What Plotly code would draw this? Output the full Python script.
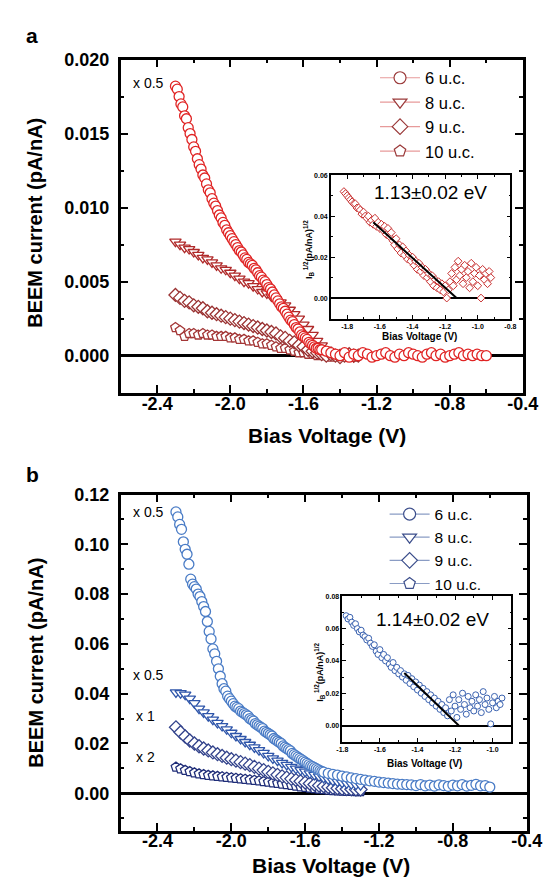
import plotly.graph_objects as go

# ---------------- data ----------------
bias_dense = [-2.30, -2.29, -2.28, -2.27, -2.26, -2.25, -2.24, -2.23, -2.22, -2.21,
              -2.20, -2.19, -2.18, -2.17, -2.16, -2.15, -2.14, -2.13, -2.12, -2.11,
              -2.10, -2.09, -2.08, -2.07, -2.06, -2.05, -2.04, -2.03, -2.02, -2.01,
              -2.00, -1.99, -1.98, -1.97, -1.96, -1.95, -1.94, -1.93, -1.92, -1.91,
              -1.90, -1.89, -1.88, -1.87, -1.86, -1.85, -1.84, -1.83, -1.82, -1.81,
              -1.80, -1.79, -1.78, -1.77, -1.76, -1.75, -1.74, -1.73, -1.72, -1.71,
              -1.70, -1.69, -1.68, -1.67, -1.66, -1.65, -1.64, -1.63, -1.62, -1.61,
              -1.60, -1.59, -1.58, -1.57, -1.56, -1.55, -1.54, -1.53, -1.52, -1.51,
              -1.50]
bias_tail = [-1.475, -1.450, -1.425, -1.400, -1.375, -1.350, -1.325, -1.300, -1.275, -1.250,
             -1.225, -1.200, -1.175, -1.150, -1.125, -1.100, -1.075, -1.050, -1.025, -1.000,
             -0.975, -0.950, -0.925, -0.900, -0.875, -0.850, -0.825, -0.800, -0.775, -0.750,
             -0.725, -0.700, -0.675, -0.650, -0.625, -0.600]
bias_circ = bias_dense + bias_tail
bias_short = [-2.300, -2.275, -2.250, -2.225, -2.200, -2.175, -2.150, -2.125, -2.100, -2.075,
              -2.050, -2.025, -2.000, -1.975, -1.950, -1.925, -1.900, -1.875, -1.850, -1.825,
              -1.800, -1.775, -1.750, -1.725, -1.700, -1.675, -1.650, -1.625, -1.600, -1.575,
              -1.550, -1.525, -1.500, -1.475, -1.450, -1.425, -1.400, -1.375, -1.350, -1.325,
              -1.300]

# panel a (pA/nA); 6 u.c. shown x0.5
a_6uc = [0.0182, 0.0180, 0.0175, 0.0170, 0.0168, 0.0162, 0.0160, 0.0154, 0.0150, 0.0146,
         0.0141, 0.0138, 0.0133, 0.0129, 0.0126, 0.0122, 0.0120, 0.0116, 0.0112, 0.0110,
         0.0106, 0.0103, 0.0101, 0.0098, 0.0095, 0.0093, 0.0090, 0.0088, 0.0085, 0.0083,
         0.0081, 0.0079, 0.0077, 0.0075, 0.0073, 0.0071, 0.0070, 0.0068, 0.0066, 0.0065,
         0.0063, 0.0062, 0.0061, 0.0059, 0.0058, 0.0056, 0.0054, 0.0053, 0.0051, 0.0050,
         0.0048, 0.0046, 0.0045, 0.0043, 0.0041, 0.0039, 0.0037, 0.0035, 0.0033, 0.0032,
         0.0030, 0.0028, 0.0026, 0.0024, 0.0023, 0.0021, 0.0019, 0.0018, 0.0016, 0.0014,
         0.0013, 0.0012, 0.0011, 0.0009, 0.0008, 0.0007, 0.0006, 0.0005, 0.0005, 0.0004,
         0.0004,
         0.0003, 0.0002, 0.0001, 0.0000, 0.0002, -0.0001, 0.0001, 0.0000, 0.0002, 0.0001,
         -0.0001, 0.0000, 0.0001, 0.0002, 0.0000, -0.0001, 0.0001, 0.0000, 0.0002, 0.0001,
         0.0000, -0.0001, 0.0001, 0.0002, 0.0000, 0.0001, -0.0001, 0.0000, 0.0001, 0.0002,
         0.0000, 0.0001, 0.0000, 0.0001, 0.0000, 0.0000]
a_8uc = [0.0077, 0.0075, 0.0073, 0.0072, 0.0070, 0.0068, 0.0066, 0.0065, 0.0063, 0.0061,
         0.0059, 0.0058, 0.0056, 0.0054, 0.0052, 0.0050, 0.0049, 0.0047, 0.0045, 0.0043,
         0.0042, 0.0040, 0.0038, 0.0036, 0.0034, 0.0031, 0.0028, 0.0025, 0.0021, 0.0018,
         0.0014, 0.0010, 0.0007, 0.0004, 0.0002, 0.0001, 0.0000, 0.0001, 0.0000, -0.0001,
         0.0000]
a_9uc = [0.0041, 0.0039, 0.0037, 0.0036, 0.0034, 0.0033, 0.0032, 0.0030, 0.0029, 0.0028,
         0.0027, 0.0026, 0.0025, 0.0024, 0.0023, 0.0022, 0.0021, 0.0020, 0.0019, 0.0018,
         0.0017, 0.0016, 0.0015, 0.0013, 0.0012, 0.0010, 0.0009, 0.0007, 0.0006, 0.0004,
         0.0003, 0.0002, 0.0001, 0.0000, 0.0001, 0.0000, -0.0001, 0.0000, 0.0001, 0.0000,
         0.0000]
a_10uc = [0.0019, 0.0017, 0.0013, 0.0015, 0.0015, 0.0014, 0.0015, 0.0014, 0.0014, 0.0013,
          0.0013, 0.0013, 0.0012, 0.0012, 0.0011, 0.0011, 0.0010, 0.0010, 0.0009, 0.0008,
          0.0008, 0.0007, 0.0006, 0.0005, 0.0005, 0.0004, 0.0003, 0.0002, 0.0002, 0.0001,
          0.0001, 0.0000, 0.0001, 0.0000, -0.0001, 0.0000, 0.0001, 0.0000, 0.0000, -0.0001,
          0.0000]

# panel b (pA/nA); 6 u.c. x0.5, 8 u.c. x0.5, 9 u.c. x1, 10 u.c. x2
b_6uc = [0.113, 0.111, 0.108, 0.106, 0.101, 0.098, 0.096, 0.092, 0.086, 0.084,
         0.083, 0.082, 0.080, 0.079, 0.077, 0.075, 0.073, 0.069, 0.065, 0.062,
         0.058, 0.056, 0.053, 0.050, 0.047, 0.044, 0.042, 0.041, 0.039, 0.038,
         0.037, 0.036, 0.035, 0.0345, 0.034, 0.033, 0.0325, 0.032, 0.0315, 0.031,
         0.030, 0.0295, 0.029, 0.028, 0.0275, 0.027, 0.0265, 0.026, 0.025, 0.0245,
         0.024, 0.0235, 0.023, 0.022, 0.0215, 0.021, 0.0205, 0.020, 0.019, 0.0185,
         0.018, 0.0175, 0.017, 0.016, 0.0155, 0.015, 0.0145, 0.014, 0.0135, 0.013,
         0.0125, 0.012, 0.0115, 0.011, 0.0107, 0.0103, 0.0099, 0.0095, 0.0091, 0.0088,
         0.0085,
         0.0080, 0.0076, 0.0073, 0.0069, 0.0066, 0.0062, 0.0059, 0.0056, 0.0053, 0.0050,
         0.0048, 0.0045, 0.0043, 0.0041, 0.0039, 0.0037, 0.0036, 0.0035, 0.0034, 0.0031,
         0.0035, 0.0030, 0.0033, 0.0029, 0.0034, 0.0031, 0.0028, 0.0033, 0.0030, 0.0035,
         0.0029, 0.0032, 0.0036, 0.0030, 0.0031, 0.0025]
b_8uc = [0.0405, 0.0402, 0.0396, 0.0380, 0.0362, 0.0340, 0.0325, 0.0310, 0.0296, 0.0283,
         0.0270, 0.0257, 0.0243, 0.0230, 0.0218, 0.0206, 0.0195, 0.0184, 0.0173, 0.0162,
         0.0150, 0.0140, 0.0131, 0.0122, 0.0114, 0.0106, 0.0099, 0.0093, 0.0087, 0.0080,
         0.0074, 0.0068, 0.0062, 0.0056, 0.0051, 0.0047, 0.0043, 0.0040, 0.0037, 0.0035,
         0.0033]
b_9uc = [0.0265, 0.0245, 0.0228, 0.0212, 0.0200, 0.0189, 0.0180, 0.0172, 0.0164, 0.0157,
         0.0150, 0.0143, 0.0137, 0.0131, 0.0125, 0.0119, 0.0113, 0.0106, 0.0099, 0.0093,
         0.0086, 0.0080, 0.0074, 0.0068, 0.0063, 0.0058, 0.0053, 0.0048, 0.0043, 0.0039,
         0.0035, 0.0031, 0.0028, 0.0025, 0.0022, 0.0020, 0.0018, 0.0017, 0.0016, 0.0015,
         0.0015]
b_10uc = [0.0105, 0.0098, 0.0092, 0.0087, 0.0082, 0.0078, 0.0075, 0.0072, 0.0070, 0.0068,
          0.0066, 0.0064, 0.0062, 0.0060, 0.0058, 0.0056, 0.0054, 0.0052, 0.0050, 0.0047,
          0.0045, 0.0042, 0.0040, 0.0037, 0.0035, 0.0032, 0.0029, 0.0026, 0.0024, 0.0021,
          0.0019, 0.0017, 0.0015, 0.0013, 0.0011, 0.0010, 0.0009, 0.0008, 0.0008, 0.0007,
          0.0007]

# inset a: I_B^(1/2) vs bias
ins_a_x = [-1.82, -1.81, -1.80, -1.79, -1.78, -1.77, -1.76, -1.75, -1.74, -1.73,
           -1.72, -1.71, -1.70, -1.69, -1.68, -1.67, -1.66, -1.65, -1.64, -1.63,
           -1.62, -1.61, -1.60, -1.59, -1.58, -1.57, -1.56, -1.55, -1.54, -1.53,
           -1.52, -1.51, -1.50, -1.49, -1.48, -1.47, -1.46, -1.45, -1.44, -1.43,
           -1.42, -1.41, -1.40, -1.39, -1.38, -1.37, -1.36, -1.35, -1.34, -1.33,
           -1.32, -1.31, -1.30, -1.29, -1.28, -1.27, -1.26, -1.25, -1.24, -1.23,
           -1.22, -1.21, -1.20, -1.19, -1.18, -1.17, -1.16, -1.15, -1.14, -1.13,
           -1.12, -1.11, -1.10, -1.09, -1.08, -1.07, -1.06, -1.05, -1.04, -1.03,
           -1.02, -1.01, -1.00, -0.99, -0.98, -0.97, -0.96, -0.95, -0.94, -0.93,
           -0.92]
ins_a_y = [0.052, 0.051, 0.050, 0.049, 0.048, 0.047, 0.046, 0.046, 0.044, 0.044,
           0.043, 0.041, 0.042, 0.040, 0.039, 0.040, 0.037, 0.038, 0.036, 0.039,
           0.035, 0.037, 0.034, 0.036, 0.033, 0.035, 0.031, 0.034, 0.030, 0.032,
           0.028, 0.026, 0.029, 0.024, 0.026, 0.022, 0.025, 0.021, 0.023, 0.019,
           0.021, 0.018, 0.020, 0.016, 0.018, 0.014, 0.017, 0.013, 0.015, 0.011,
           0.014, 0.010, 0.012, 0.008, 0.011, 0.006, 0.009, 0.005, 0.008, 0.004,
           0.007, 0.003, 0.006, 0.000, 0.004, 0.008, 0.012, 0.006, 0.015, 0.009,
           0.018, 0.011, 0.014, 0.007, 0.016, 0.010, 0.013, 0.005, 0.017, 0.008,
           0.012, 0.015, 0.006, 0.011, 0.000, 0.014, 0.009, 0.012, 0.007, 0.013,
           0.010]
fit_a_x = [-1.64, -1.13]
fit_a_y = [0.037, 0.0]

# inset b
ins_b_x = [-1.78, -1.77, -1.76, -1.75, -1.74, -1.73, -1.72, -1.71, -1.70, -1.69,
           -1.68, -1.67, -1.66, -1.65, -1.64, -1.63, -1.62, -1.61, -1.60, -1.59,
           -1.58, -1.57, -1.56, -1.55, -1.54, -1.53, -1.52, -1.51, -1.50, -1.49,
           -1.48, -1.47, -1.46, -1.45, -1.44, -1.43, -1.42, -1.41, -1.40, -1.39,
           -1.38, -1.37, -1.36, -1.35, -1.34, -1.33, -1.32, -1.31, -1.30, -1.29,
           -1.28, -1.27, -1.26, -1.25, -1.24, -1.23, -1.22, -1.21, -1.20, -1.19,
           -1.18, -1.17, -1.16, -1.15, -1.14, -1.13, -1.12, -1.11, -1.10, -1.09,
           -1.08, -1.07, -1.06, -1.05, -1.04, -1.03, -1.02, -1.01, -1.00, -0.99,
           -0.98, -0.97, -0.96, -0.95]
ins_b_y = [0.068, 0.066, 0.067, 0.064, 0.062, 0.063, 0.060, 0.058, 0.059, 0.056,
           0.055, 0.053, 0.054, 0.051, 0.049, 0.050, 0.046, 0.044, 0.047, 0.042,
           0.044, 0.040, 0.042, 0.038, 0.036, 0.039, 0.034, 0.036, 0.032, 0.034,
           0.030, 0.032, 0.028, 0.031, 0.026, 0.029, 0.024, 0.027, 0.022, 0.025,
           0.020, 0.023, 0.018, 0.021, 0.016, 0.019, 0.014, 0.017, 0.012, 0.015,
           0.010, 0.013, 0.008, 0.011, 0.006, 0.016, 0.009, 0.019, 0.012, 0.005,
           0.016, 0.010, 0.020, 0.013, 0.007, 0.018, 0.011, 0.015, 0.009, 0.019,
           0.012, 0.016, 0.008, 0.021, 0.013, 0.017, 0.010, 0.001, 0.014, 0.018,
           0.011, 0.015, 0.013, 0.017]
fit_b_x = [-1.47, -1.18]
fit_b_y = [0.0325, 0.0]

series_names = ["6 u.c.", "8 u.c.", "9 u.c.", "10 u.c."]
series_symbols = ["circle", "triangle-down", "diamond", "pentagon"]

main_x_ticks = [-2.4, -2.0, -1.6, -1.2, -0.8, -0.4]
main_x_text = ["-2.4", "-2.0", "-1.6", "-1.2", "-0.8", "-0.4"]
main_x_minor = [-2.6, -2.2, -1.8, -1.4, -1.0, -0.6]
a_y_ticks = [0.0, 0.005, 0.010, 0.015, 0.020]
a_y_text = ["0.000", "0.005", "0.010", "0.015", "0.020"]
a_y_minor = [-0.0025, 0.0025, 0.0075, 0.0125, 0.0175]
b_y_ticks = [0.0, 0.02, 0.04, 0.06, 0.08, 0.10, 0.12]
b_y_text = ["0.00", "0.02", "0.04", "0.06", "0.08", "0.10", "0.12"]
b_y_minor = [-0.01, 0.01, 0.03, 0.05, 0.07, 0.09, 0.11]
ia_x_ticks = [-1.8, -1.6, -1.4, -1.2, -1.0, -0.8]
ia_x_text = ["-1.8", "-1.6", "-1.4", "-1.2", "-1.0", "-0.8"]
ia_x_minor = [-1.9, -1.7, -1.5, -1.3, -1.1, -0.9]
ia_y_ticks = [0.0, 0.02, 0.04, 0.06]
ia_y_text = ["0.00", "0.02", "0.04", "0.06"]
ia_y_minor = [0.01, 0.03, 0.05]
ib_x_ticks = [-1.8, -1.6, -1.4, -1.2, -1.0]
ib_x_text = ["-1.8", "-1.6", "-1.4", "-1.2", "-1.0"]
ib_x_minor = [-1.7, -1.5, -1.3, -1.1, -0.9]
ib_y_ticks = [0.0, 0.02, 0.04, 0.06, 0.08]
ib_y_text = ["0.00", "0.02", "0.04", "0.06", "0.08"]
ib_y_minor = [0.01, 0.03, 0.05, 0.07]

# ---------------- styling ----------------
W, H = 552, 877
FONT = "Liberation Sans, Arial, sans-serif"


def fx(p):
    return p / W


def fy(p):
    return 1 - p / H


red_cols = ["#e02424", "#b02a2a", "#9a3232", "#a33636"]
blue_cols = ["#4a7cc6", "#2f56aa", "#34448c", "#1f2d78"]

fig = go.Figure()

a_sets = [(bias_circ, a_6uc), (bias_short, a_8uc), (bias_short, a_9uc), (bias_short, a_10uc)]
b_sets = [(bias_circ, b_6uc), (bias_short, b_8uc), (bias_short, b_9uc), (bias_short, b_10uc)]

# circles drawn last so they sit on top
for idx in [3, 2, 1, 0]:
    xs, ys = a_sets[idx]
    fig.add_trace(go.Scatter(
        x=xs, y=ys, mode="markers", showlegend=False, xaxis="x", yaxis="y",
        marker=dict(symbol=series_symbols[idx], size=10, color="white",
                    line=dict(color=red_cols[idx], width=1.3))))
for idx in [3, 2, 1, 0]:
    xs, ys = b_sets[idx]
    fig.add_trace(go.Scatter(
        x=xs, y=ys, mode="markers", showlegend=False, xaxis="x3", yaxis="y3",
        marker=dict(symbol=series_symbols[idx], size=10, color="white",
                    line=dict(color=blue_cols[idx], width=1.3))))

# legend entries
for idx in range(4):
    fig.add_trace(go.Scatter(
        x=[None], y=[None], mode="lines+markers", name=series_names[idx],
        legend="legend", xaxis="x", yaxis="y",
        line=dict(color="#e79a9a", width=1.2),
        marker=dict(symbol=series_symbols[idx], size=12, color="white",
                    line=dict(color="#9b3a3a", width=1.2))))
for idx in range(4):
    fig.add_trace(go.Scatter(
        x=[None], y=[None], mode="lines+markers", name=series_names[idx],
        legend="legend2", xaxis="x3", yaxis="y3",
        line=dict(color="#8a9cc4", width=1.2),
        marker=dict(symbol=series_symbols[idx], size=12, color="white",
                    line=dict(color="#3d4f8c", width=1.2))))

# insets
fig.add_trace(go.Scatter(x=ins_a_x, y=ins_a_y, mode="markers", showlegend=False,
                         xaxis="x2", yaxis="y2",
                         marker=dict(symbol="diamond", size=6, color="white",
                                     line=dict(color="#c83030", width=1))))
fig.add_trace(go.Scatter(x=fit_a_x, y=fit_a_y, mode="lines", showlegend=False,
                         xaxis="x2", yaxis="y2", line=dict(color="black", width=2)))
fig.add_trace(go.Scatter(x=ins_b_x, y=ins_b_y, mode="markers", showlegend=False,
                         xaxis="x4", yaxis="y4",
                         marker=dict(symbol="circle", size=6, color="white",
                                     line=dict(color="#3a62b0", width=1))))
fig.add_trace(go.Scatter(x=fit_b_x, y=fit_b_y, mode="lines", showlegend=False,
                         xaxis="x4", yaxis="y4", line=dict(color="black", width=2)))

main_tick_font = dict(family=FONT, size=18, color="black", weight="bold")
inset_tick_font = dict(family=FONT, size=7, color="black", weight="bold")


def main_axis(domain, rng, tv, tt, minor_vals, anchor, zl=False, standoff=0):
    return dict(domain=domain, range=rng, anchor=anchor, showgrid=False,
                showline=True, linecolor="black", linewidth=2.5, mirror="ticks",
                ticks="inside", ticklen=8, tickwidth=2, tickcolor="black",
                tickvals=tv, ticktext=tt, tickfont=main_tick_font,
                ticklabelstandoff=standoff,
                minor=dict(tickvals=minor_vals, ticks="inside", ticklen=4,
                           tickwidth=2, tickcolor="black", showgrid=False),
                zeroline=zl, zerolinecolor="black", zerolinewidth=2.5)


def inset_axis(domain, rng, tv, tt, minor_vals, anchor, zl=False):
    return dict(domain=domain, range=rng, anchor=anchor, showgrid=False,
                showline=True, linecolor="black", linewidth=1.5, mirror="ticks",
                ticks="inside", ticklen=4, tickwidth=1.2, tickcolor="black",
                tickvals=tv, ticktext=tt, tickfont=inset_tick_font,
                minor=dict(tickvals=minor_vals, ticks="inside", ticklen=2,
                           tickwidth=1.2, tickcolor="black", showgrid=False),
                zeroline=zl, zerolinecolor="black", zerolinewidth=1.5)


fig.update_layout(
    width=W, height=H, autosize=False,
    margin=dict(l=0, r=0, t=0, b=0),
    paper_bgcolor="white", plot_bgcolor="white",
    xaxis=main_axis([fx(111), fx(530)], [-2.6, -0.4], main_x_ticks, main_x_text, main_x_minor, "y", standoff=-7),
    yaxis=main_axis([fy(379), fy(42)], [-0.0025, 0.020], a_y_ticks, a_y_text, a_y_minor, "x", zl=True, standoff=5),
    xaxis3=main_axis([fx(111), fx(534)], [-2.6, -0.4], main_x_ticks, main_x_text, main_x_minor, "y3", standoff=-8),
    yaxis3=main_axis([fy(822), fy(482)], [-0.015, 0.12], b_y_ticks, b_y_text, b_y_minor, "x3", zl=True, standoff=5),
    xaxis2=inset_axis([fx(330), fx(517)], [-1.9, -0.8], ia_x_ticks, ia_x_text, ia_x_minor, "y2"),
    yaxis2=inset_axis([fy(304), fy(159)], [-0.01, 0.06], ia_y_ticks, ia_y_text, ia_y_minor, "x2", zl=True),
    xaxis4=inset_axis([fx(342), fx(518)], [-1.8, -0.9], ib_x_ticks, ib_x_text, ib_x_minor, "y4"),
    yaxis4=inset_axis([fy(732), fy(585)], [-0.01, 0.08], ib_y_ticks, ib_y_text, ib_y_minor, "x4", zl=True),
    legend=dict(x=fx(376), y=fy(43), xanchor="left", yanchor="top",
                bgcolor="rgba(0,0,0,0)", font=dict(family=FONT, size=16.5, color="black"),
                itemwidth=40, tracegroupgap=0),
    legend2=dict(x=fx(386), y=fy(485), xanchor="left", yanchor="top",
                 bgcolor="rgba(0,0,0,0)", font=dict(family=FONT, size=15.5, color="black"),
                 itemwidth=40, tracegroupgap=0),
)

ann = []


def add_text(text, x, y, size, bold=False, angle=0):
    ann.append(dict(text=text, x=x, y=y, xref="paper", yref="paper", showarrow=False,
                    textangle=angle, xanchor="center", yanchor="middle",
                    font=dict(family=FONT, size=size, color="black",
                              weight="bold" if bold else "normal")))


add_text("a", fx(19), fy(18), 21, bold=True)
add_text("b", fx(19), fy(462), 21, bold=True)
add_text("BEEM current (pA/nA)", fx(22), fy(207), 20, bold=True, angle=-90)
add_text("BEEM current (pA/nA)", fx(22), fy(652), 20, bold=True, angle=-90)
add_text("Bias Voltage (V)", fx(326), fy(422), 21, bold=True)
add_text("Bias Voltage (V)", fx(330), fy(857), 21, bold=True)
add_text("x 0.5", fx(140), fy(66), 14)
add_text("x 0.5", fx(140), fy(500), 14)
add_text("x 0.5", fx(140), fy(665), 14)
add_text("x 1", fx(137), fy(706), 14)
add_text("x 2", fx(137), fy(748), 14)
add_text("1.13±0.02 eV", fx(434), fy(177), 19)
add_text("1.14±0.02 eV", fx(436), fy(608), 19)
add_text("Bias Voltage (V)", fx(422), fy(322), 10, bold=True)
add_text("Bias Voltage (V)", fx(428), fy(754), 10, bold=True)
add_text("I<sub>B</sub><sup> 1/2</sup>(pA/nA)<sup>1/2</sup>", fx(307), fy(234), 9, bold=True, angle=-90)
add_text("I<sub>B</sub><sup> 1/2</sup>(pA/nA)<sup>1/2</sup>", fx(318), fy(662), 9, bold=True, angle=-90)

fig.update_layout(annotations=ann)

fig.write_html("out.html")
